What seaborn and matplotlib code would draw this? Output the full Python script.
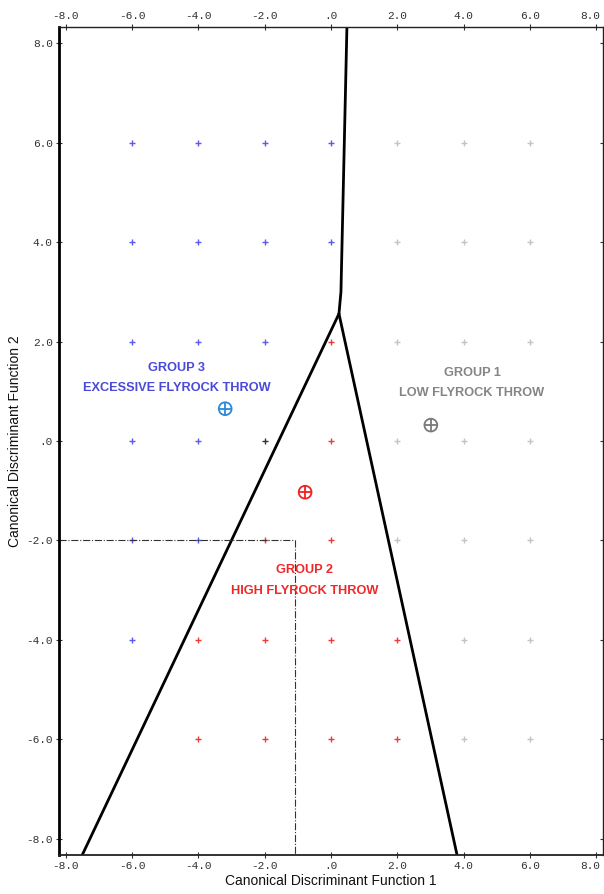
import matplotlib
matplotlib.use("Agg")
import matplotlib.pyplot as plt
import matplotlib.transforms as mtransforms
import seaborn as sns
import pandas as pd

# ---- data ----
grid_x = [-6, -4, -2, 0, 2, 4, 6,
          -6, -4, -2, 0, 2, 4, 6,
          -6, -4, -2, 0, 2, 4, 6,
          -6, -4, -2, 0, 2, 4, 6,
          -6, -4, -2, 0, 2, 4, 6,
          -6, -4, -2, 0, 2, 4, 6,
          -4, -2, 0, 2, 4, 6]
grid_y = [6] * 7 + [4] * 7 + [2] * 7 + [0] * 7 + [-2] * 7 + [-4] * 7 + [-6] * 6
grid_group = ["3", "3", "3", "3", "1", "1", "1",
              "3", "3", "3", "3", "1", "1", "1",
              "3", "3", "3", "2", "1", "1", "1",
              "3", "3", "b", "2", "1", "1", "1",
              "3", "3", "2", "2", "1", "1", "1",
              "3", "2", "2", "2", "2", "1", "1",
              "2", "2", "2", "2", "1", "1"]

centroid_x = [3.01, -0.78, -3.19]
centroid_y = [0.32, -1.03, 0.65]
centroid_group = ["1", "2", "3"]

# territorial boundaries
top_line_x = [0.48, 0.30, 0.24]
top_line_y = [8.33, 3.0, 2.56]
left_line_x = [0.24, -7.50]
left_line_y = [2.56, -8.33]
right_line_x = [0.24, 3.80]
right_line_y = [2.56, -8.33]
dash_h_x = [-8.2, -1.08]
dash_h_y = [-2.0, -2.0]
dash_v_x = [-1.08, -1.08]
dash_v_y = [-2.0, -8.33]

tick_vals = [-8, -6, -4, -2, 0, 2, 4, 6, 8]
tick_labels = ["-8.0", "-6.0", "-4.0", "-2.0", ".0", "2.0", "4.0", "6.0", "8.0"]

group_labels = {"1": ("GROUP 1", "LOW FLYROCK THROW"),
                "2": ("GROUP 2", "HIGH FLYROCK THROW"),
                "3": ("GROUP 3", "EXCESSIVE FLYROCK THROW")}
label_x = {"1": 4.25, "2": -0.8, "3": -4.65}
label_y = {"1": (1.36, 0.96), "2": (-2.6, -3.02), "3": (1.46, 1.06)}

# ---- style ----
sns.set_theme(style="white")
plt.rcParams['font.family'] = ['Liberation Sans', 'DejaVu Sans']

grid_pal = {"1": "#c4c4c4", "2": "#f03a3a", "3": "#5a5af0", "b": "#333333"}
cent_pal = {"1": "#7a7a7a", "2": "#ee2222", "3": "#2a8ad8"}
text_pal = {"1": "#858585", "2": "#f02828", "3": "#4a4ad8"}

fig = plt.figure(figsize=(6.04, 8.94), dpi=100)
ax = fig.add_axes([59 / 604, 1 - 855 / 894, 544 / 604, 828 / 894])

df = pd.DataFrame({"x": grid_x, "y": grid_y, "g": grid_group})
for g, sub in df.groupby("g"):
    sns.scatterplot(data=sub, x="x", y="y", marker="+", color=grid_pal[g],
                    s=20, linewidth=1.0, legend=False, ax=ax)

# boundaries
for lx, ly in [(top_line_x, top_line_y), (left_line_x, left_line_y),
               (right_line_x, right_line_y)]:
    sns.lineplot(x=lx, y=ly, sort=False, estimator=None, color="black",
                 linewidth=2.0, ax=ax)
for lx, ly in [(dash_h_x, dash_h_y), (dash_v_x, dash_v_y)]:
    sns.lineplot(x=lx, y=ly, sort=False, estimator=None, color="#333333",
                 linewidth=0.8, linestyle="-.", ax=ax)

# centroids
for cx, cy, g in zip(centroid_x, centroid_y, centroid_group):
    sns.scatterplot(x=[cx], y=[cy], marker="o", s=85, facecolor="none",
                    edgecolor=cent_pal[g], linewidth=1.3, ax=ax, zorder=5)
    sns.scatterplot(x=[cx], y=[cy], marker="+", s=85, color=cent_pal[g],
                    linewidth=1.3, ax=ax, zorder=5)

# group labels
for g, (l1, l2) in group_labels.items():
    ax.text(label_x[g], label_y[g][0], l1, color=text_pal[g], ha="center",
            va="center", fontsize=9.2, fontweight="bold")
    ax.text(label_x[g], label_y[g][1], l2, color=text_pal[g], ha="center",
            va="center", fontsize=9.2, fontweight="bold")

ax.set_xlim(-8.2, 8.2)
ax.set_ylim(-8.33, 8.33)
ax.set_xticks(tick_vals)
ax.set_yticks(tick_vals)
ax.set_xticklabels(tick_labels, family="Liberation Mono", fontsize=8, color="#333333")
ax.set_yticklabels(tick_labels, family="Liberation Mono", fontsize=8, color="#333333")
ax.tick_params(axis="both", direction="inout", length=5, width=0.8, color="#333333",
               top=True, right=True, labeltop=True, labelright=False,
               bottom=True, left=True, pad=2)
# keep the last x labels inside the figure
shift = mtransforms.ScaledTranslation(-6 / 100, 0, fig.dpi_scale_trans)
last_tick = ax.xaxis.get_major_ticks()[-1]
for t in (last_tick.label1, last_tick.label2):
    t.set_transform(t.get_transform() + shift)

for side, sp in ax.spines.items():
    sp.set_color("#222222")
    sp.set_linewidth(1.0)
ax.spines["left"].set_linewidth(2.0)
ax.spines["left"].set_color("black")
ax.spines["bottom"].set_linewidth(1.3)

ax.set_xlabel("Canonical Discriminant Function 1", fontsize=10, color="#111111", labelpad=2)
ax.set_ylabel("Canonical Discriminant Function 2", fontsize=10, color="#111111", labelpad=3)

fig.savefig("out.png", dpi=100)
